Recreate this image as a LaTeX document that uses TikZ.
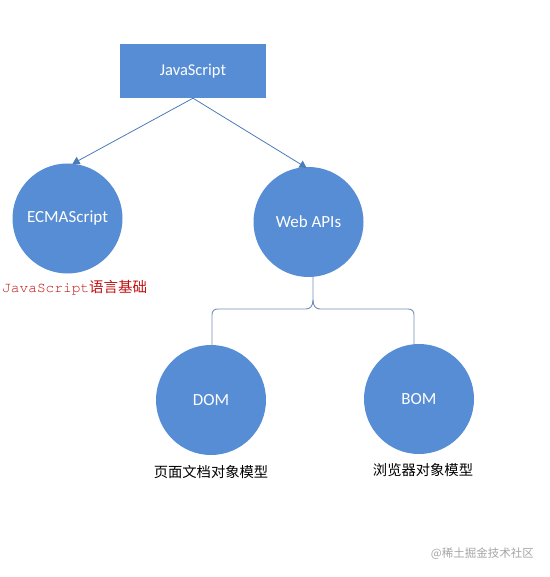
\documentclass[tikz,border=0pt]{standalone}
\usepackage{fontspec}
\setmainfont{Carlito}
\newfontfamily\cjk{Noto Sans CJK SC}
\newfontfamily\monof{TeX Gyre Cursor}
\usetikzlibrary{arrows.meta,calc}
\definecolor{boxblue}{RGB}{86,141,212}
\definecolor{linkblue}{RGB}{74,124,186}
\definecolor{bracecol}{RGB}{112,142,180}
\definecolor{labelred}{RGB}{192,16,16}
\definecolor{markgray}{RGB}{165,165,165}
\tikzset{
  boxnode/.style={fill=boxblue, draw=none, minimum width=146pt, minimum height=54pt, inner sep=0pt, text=white, font=\fontsize{16.5}{18}\selectfont},
  ballnode/.style={circle, fill=boxblue, draw=none, minimum size=110pt, inner sep=0pt, text=white, font=\fontsize{17}{19}\selectfont},
  cnlabel/.style={inner sep=0pt, font=\cjk\fontsize{14.3}{16}\selectfont},
  link/.style={draw=linkblue, line width=0.8pt, -{Triangle[length=7pt,width=8pt]}},
  bracket/.style={draw=bracecol, line width=0.9pt}
}
\begin{document}
\begin{tikzpicture}[x=1pt,y=-1pt]
\useasboundingbox (0,0) rectangle (549,577);
\node[boxnode] (js) at (193,71) {JavaScript};
\node[ballnode] (ecma) at (67.5,218.5) {ECMAScript};
\node[ballnode] (web) at (308.5,222) {Web APIs};
\node[ballnode] (dom) at (211,400) {DOM};
\node[ballnode] (bom) at (419,399) {BOM};
\node[inner sep=0pt, anchor=west, text=labelred] (base) at (2,288)
  {{\monof\fontsize{14.5}{16}\selectfont JavaScript}{\cjk\fontsize{14.5}{16}\selectfont 语言基础}};
\node[cnlabel] (domlab) at (211,472) {页面文档对象模型};
\node[cnlabel] (bomlab) at (423,470) {浏览器对象模型};
\node[inner sep=0pt, anchor=east, text=markgray, font=\cjk\fontsize{11.5}{13}\selectfont] (mark) at (534,554) {@稀土掘金技术社区};
\draw[link] (js.south) -- ([xshift=5pt,yshift=-0.5pt]ecma.north);
\draw[link] (js.south) -- ([xshift=-2pt,yshift=-1pt]web.north);
% brace: stem from Web APIs, arms to DOM and BOM
\coordinate (stem) at ([xshift=4.5pt]web.south);
\coordinate (domtop) at ([xshift=1pt,yshift=-5pt]dom.north);
\coordinate (bomtop) at ([xshift=-5pt,yshift=-4pt]bom.north);
\coordinate (barL) at (domtop |- 0,309);
\coordinate (barR) at (bomtop |- 0,309);
\coordinate (mid) at (stem |- 0,309);
\draw[bracket] (stem) -- ($(mid)+(0,-9)$)
  .. controls ($(mid)+(0,-3)$) and ($(mid)+(-3,0)$) .. ($(mid)+(-7,0)$)
  -- ($(barL)+(6,0)$)
  .. controls ($(barL)+(2,0)$) and ($(barL)+(0,2)$) .. ($(barL)+(0,6)$)
  -- (domtop);
\draw[bracket] ($(mid)+(0,-9)$)
  .. controls ($(mid)+(0,-3)$) and ($(mid)+(3,0)$) .. ($(mid)+(7,0)$)
  -- ($(barR)+(-6,0)$)
  .. controls ($(barR)+(-2,0)$) and ($(barR)+(0,2)$) .. ($(barR)+(0,6)$)
  -- (bomtop);
\end{tikzpicture}
\end{document}
